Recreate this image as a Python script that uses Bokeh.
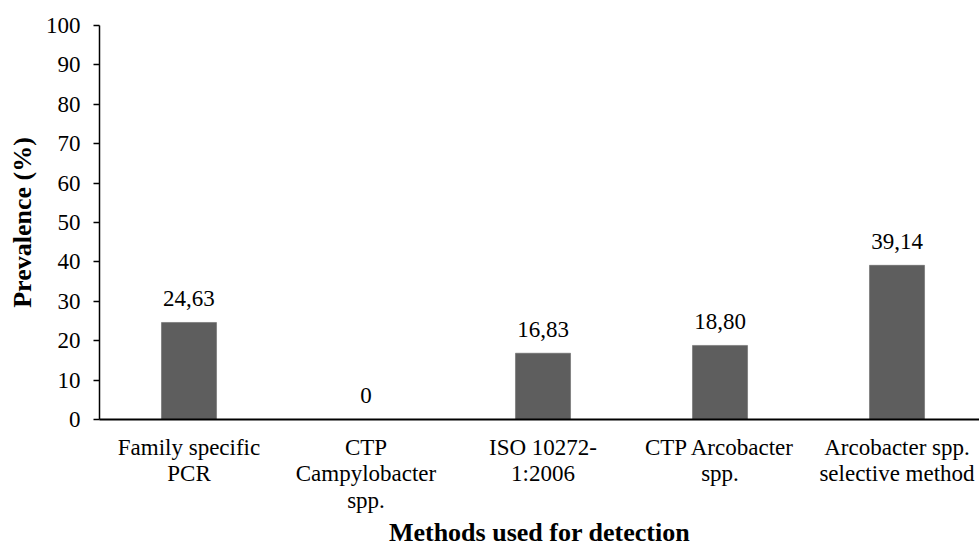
from bokeh.plotting import figure
from bokeh.models import Range1d, FixedTicker, ColumnDataSource
from bokeh.embed import file_html
from bokeh.resources import INLINE
from bokeh.core.properties import value

categories = [
    "Family specific\nPCR",
    "CTP\nCampylobacter\nspp.",
    "ISO 10272-\n1:2006",
    "CTP Arcobacter\nspp.",
    "Arcobacter spp.\nselective method",
]
values = [24.63, 0.0, 16.83, 18.80, 39.14]
value_labels = ["24,63", "0", "16,83", "18,80", "39,14"]
y_ticks = [0, 10, 20, 30, 40, 50, 60, 70, 80, 90, 100]

FONT = "Liberation Serif"
positions = list(range(len(categories)))

src = ColumnDataSource(dict(x=positions, top=values, lab=value_labels))

p = figure(
    width=979, height=551,
    x_range=Range1d(-0.5056, 4.466),
    y_range=Range1d(0, 100),
    output_backend="svg", toolbar_location=None,
    min_border_left=99, min_border_right=0,
    min_border_top=25, min_border_bottom=132,
)
p.outline_line_color = None
p.xgrid.visible = False
p.ygrid.visible = False
p.background_fill_color = "white"
p.border_fill_color = "white"

p.vbar(x="x", top="top", width=0.311, bottom=0, source=src,
       fill_color="#5e5e5e", line_color="#5e5e5e", line_width=0.5)

p.text(x="x", y="top", text="lab", source=src, text_align="center",
       text_baseline="middle", y_offset=-24, text_font=value(FONT),
       text_font_size="23px", text_color="black")

# y axis
ya = p.yaxis[0]
ya.ticker = FixedTicker(ticks=y_ticks)
ya.minor_tick_line_color = None
ya.major_tick_out = 6
ya.major_tick_in = 0
ya.major_tick_line_width = 1.5
ya.axis_line_width = 1.5
ya.axis_line_color = "black"
ya.major_tick_line_color = "black"
ya.major_label_text_font = FONT
ya.major_label_text_font_size = "23px"
ya.major_label_text_color = "black"
ya.major_label_standoff = 13
ya.axis_label = "Prevalence (%)"
ya.axis_label_text_font = FONT
ya.axis_label_text_font_size = "26px"
ya.axis_label_text_font_style = "bold"
ya.axis_label_text_color = "black"
ya.axis_label_standoff = 6

# x axis
xa = p.xaxis[0]
xa.ticker = FixedTicker(ticks=positions)
xa.major_label_overrides = {i: c for i, c in zip(positions, categories)}
xa.minor_tick_line_color = None
xa.major_tick_out = 0
xa.major_tick_in = 0
xa.axis_line_width = 2
xa.axis_line_color = "black"
xa.major_label_text_font = FONT
xa.major_label_text_font_size = "23px"
xa.major_label_text_line_height = 1.06
xa.major_label_text_color = "black"
xa.major_label_standoff = 15
xa.axis_label = "Methods used for detection"
xa.axis_label_text_font = FONT
xa.axis_label_text_font_size = "26px"
xa.axis_label_text_font_style = "bold"
xa.axis_label_text_color = "black"
xa.axis_label_standoff = 2

open("out.html", "w").write(file_html(p, INLINE))
